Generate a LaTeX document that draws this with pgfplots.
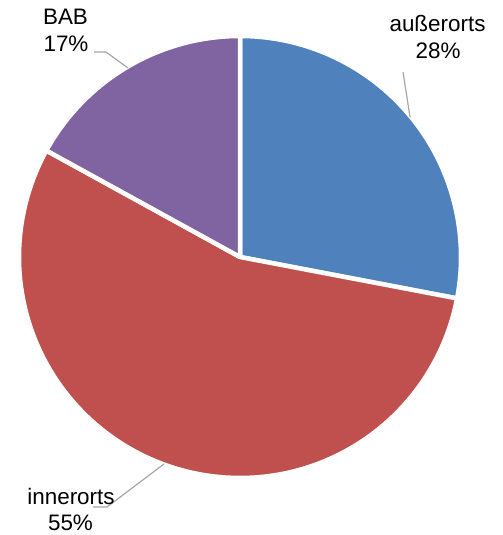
\documentclass[border=0pt]{standalone}
\usepackage{pgfplots}
\usepackage{pgfplotstable}
\usepackage{fontspec}
\setmainfont{Liberation Sans}
\pgfplotsset{compat=1.18}

\definecolor{pieblue}{HTML}{4F81BD}
\definecolor{piered}{HTML}{C0504D}
\definecolor{piepurple}{HTML}{8064A2}
\definecolor{leader}{HTML}{A6A6A6}

\tikzset{lbl/.style={font=\fontsize{22.5}{27}\selectfont, anchor=base, inner sep=0pt}}

% share in percent, clockwise from 12 o'clock
\pgfplotstableread{
part value
aussen 28
innen 55
bab 17
}\piedata

\pgfplotstablegetelem{0}{value}\of\piedata \let\va\pgfplotsretval
\pgfplotstablegetelem{1}{value}\of\piedata \let\vb\pgfplotsretval
\pgfplotstablegetelem{2}{value}\of\piedata \let\vc\pgfplotsretval
\pgfmathsetmacro\aA{90}
\pgfmathsetmacro\aB{90-3.6*\va}
\pgfmathsetmacro\aC{\aB-3.6*\vb}
\pgfmathsetmacro\aD{\aC-3.6*\vc}

\begin{document}
\begin{tikzpicture}
\useasboundingbox (-21bp,-59bp) rectangle (482bp,476bp);
\begin{axis}[
    scale only axis,
    width=438bp, height=438bp,
    xmin=-219, xmax=219, ymin=-219, ymax=219,
    hide axis, clip=false,
    every axis plot/.append style={draw=white, line width=4.5bp, line join=round, samples=120, variable=\t},
]
\addplot[fill=pieblue, domain=\aB:\aA] ({221*cos(\t)},{221*sin(\t)}) -- (0,0) -- cycle;
\addplot[fill=piered, domain=\aC:\aB] ({221*cos(\t)},{221*sin(\t)}) -- (0,0) -- cycle;
\addplot[fill=piepurple, domain=\aD:\aC] ({221*cos(\t)},{221*sin(\t)}) -- (0,0) -- cycle;

\draw[leader, line width=1.2bp] (163,185) -- (170,140);
\draw[leader, line width=1.2bp] (-146,205) -- (-134,205) -- (-112,189);
\draw[leader, line width=1.2bp] (-76,-207) -- (-133,-250) -- (-147,-250);

\node[lbl] at (197.5,225) {außerorts};
\node[lbl] at (198,198) {28\%};
\node[lbl] at (-174.5,232) {BAB};
\node[lbl] at (-174,205) {17\%};
\node[lbl] at (-169,-247) {innerorts};
\node[lbl] at (-169.5,-273.5) {55\%};
\end{axis}
\end{tikzpicture}
\end{document}
